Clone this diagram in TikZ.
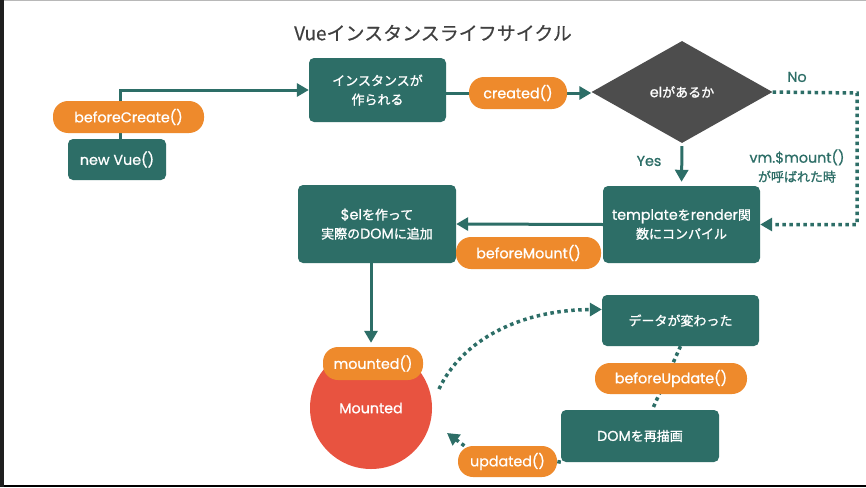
\documentclass[tikz,border=0pt]{standalone}
\usepackage{fontspec}
\setmainfont{Noto Sans CJK JP}[FakeBold=1.2]
\newfontfamily\titlefont{Noto Sans CJK JP}[FakeBold=0.4]
\newfontfamily\popfont{Poppins}[Scale=1.1, FakeBold=0.8]
\newcommand{\pp}[1]{{\popfont #1}}
\usetikzlibrary{shapes.geometric,arrows.meta,calc}
\pgfdeclarelayer{background}
\pgfsetlayers{background,main}
\definecolor{teal1}{RGB}{45,110,103}
\definecolor{orange1}{RGB}{238,138,44}
\definecolor{red1}{RGB}{232,83,64}
\definecolor{gray1}{RGB}{77,77,77}
\definecolor{title1}{RGB}{64,64,64}
\begin{document}
\begin{tikzpicture}[x=1pt,y=-1pt,
  txt/.style={font=\fontsize{13}{19}\selectfont},
  box/.style={txt, fill=teal1, rounded corners=5pt, text=white, align=center, inner sep=0pt},
  pill/.style={txt, fill=orange1, rounded corners=15pt, text=white, inner sep=0pt},
  lab/.style={txt, text=teal1, inner sep=0pt, align=center},
  conn/.style={draw=teal1, line width=3pt},
  dots/.style={draw=teal1, line width=3.5pt, dash pattern=on 3.5pt off 3.5pt},
  tip/.style={-{Triangle[length=12pt,width=13pt]}},
]
\useasboundingbox (0,0) rectangle (866,487);

\node[font=\titlefont\fontsize{19}{22}\selectfont, text=title1] (title) at (433,33) {Vueインスタンスライフサイクル};

\node[box, minimum width=98pt, minimum height=41pt] (newvue) at (117,159.5) {\pp{new Vue()}};
\node[pill, minimum width=151pt, minimum height=32pt] (bc) at (128.5,117) {\pp{beforeCreate()}};
\node[box, minimum width=137pt, minimum height=64pt] (inst) at (377.5,90) {インスタンスが\\作られる};
\node[pill, minimum width=98pt, minimum height=32pt] (cr) at (518,93) {\pp{created()}};
\node[diamond, txt, fill=gray1, minimum width=181pt, minimum height=102pt, inner sep=0pt, text=white] (dia) at (682,92) {\pp{el}があるか};
\node[lab] (no) at (797,77) {\pp{No}};
\node[lab] (vm) at (797,166) {\pp{vm.\$mount()}\\が呼ばれた時};
\node[lab] (yes) at (649,161) {\pp{Yes}};
\node[box, minimum width=157pt, minimum height=77pt] (tmpl) at (681.5,224.5) {\pp{template}を\pp{render}関\\数にコンパイル};
\node[box, minimum width=158pt, minimum height=78pt] (el) at (377,224) {\pp{\$el}を作って\\実際の\pp{DOM}に追加};
\node[pill, minimum width=145pt, minimum height=32pt] (bm) at (528.5,253) {\pp{beforeMount()}};
\node[circle, txt, fill=red1, minimum size=122pt, inner sep=0pt, text=white] (circ) at (371,408) {\pp{Mounted}};
\node[pill, minimum width=100pt, minimum height=33pt] (mp) at (373,363.5) {\pp{mounted()}};
\node[box, minimum width=157pt, minimum height=51pt] (data) at (680.5,320.5) {データが変わった};
\node[pill, minimum width=152pt, minimum height=31pt] (bu) at (671,378.5) {\pp{beforeUpdate()}};
\node[box, minimum width=158pt, minimum height=52pt] (dom) at (640,436) {\pp{DOM}を再描画};
\node[pill, minimum width=99pt, minimum height=31pt] (upd) at (507.5,461.5) {\pp{updated()}};

\coordinate (nocorner) at (857,93);
\coordinate (cstart) at (439,389);
\coordinate (updtip) at (447,433);

\begin{pgfonlayer}{background}
\fill[white] (0,0) rectangle (866,487);
\fill[black!88] (0,0) rectangle (4,487);
\fill[black] (4,485) rectangle (866,487);
\fill[black!28] (4,0) rectangle (866,1);
\draw[conn,tip] ($(newvue.north)+(3,0)$) |- (inst.west);
\draw[conn,tip] (inst.east |- cr) -- (dia.west |- cr);
\draw[dots,tip] (dia.east) -- (nocorner) |- (tmpl.east);
\draw[conn,tip,shorten <=3pt,shorten >=4pt] (dia.south) -- (tmpl.north);
\draw[conn,tip] (tmpl.west) -- (el.east);
\draw[conn,tip,shorten >=4pt] (el.south -| circ) -- (mp.north -| circ);
\draw[dots,tip] (cstart) .. controls (462,340) and (520,310) .. (data.172);
\draw[dots] (data.south) -- (dom.65);
\draw[dots] (dom.south west) -- (upd.east);
\draw[dots,tip] (upd.160) -- (updtip);
\end{pgfonlayer}
\end{tikzpicture}
\end{document}
